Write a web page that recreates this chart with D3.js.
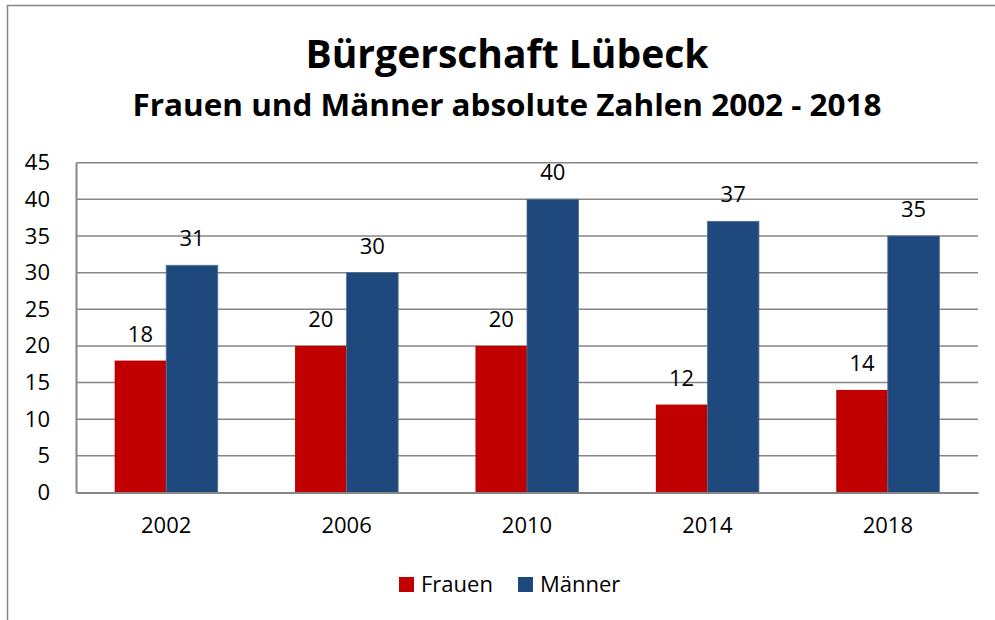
<!DOCTYPE html>
<html>
<head>
<meta charset="utf-8">
<script src="https://cdn.jsdelivr.net/npm/d3@7"></script>
<style>
  body { margin: 0; background: #fff; }
  text { font-family: "Open Sans", sans-serif; fill: #000; }
</style>
</head>
<body>
<svg id="chart" width="995" height="620"></svg>
<script>
// data
var years = ['2002', '2006', '2010', '2014', '2018'];
var series = ['Frauen', 'Männer'];
var frauen = [18, 20, 20, 12, 14];
var maenner = [31, 30, 40, 37, 35];
var yTicks = [0, 5, 10, 15, 20, 25, 30, 35, 40, 45];
var colors = ['#C00000', '#1F497D'];

var rows = years.map(function(y, i) {
    return { year: y, values: [frauen[i], maenner[i]] };
});

var svg = d3.select('#chart');

// outer chart frame (right/bottom edges run off the window)
svg.append('rect')
    .attr('x', 7.5).attr('y', 5.5)
    .attr('width', 1000).attr('height', 700)
    .attr('fill', '#fff')
    .attr('stroke', '#868686')
    .attr('stroke-width', 1.5);

var xs = d3.scaleBand().domain(years).range([76, 978]);
var xin = d3.scaleBand().domain(series).range([0, xs.bandwidth()]).paddingOuter(0.75);
var ys = d3.scaleLinear().domain([0, 45]).range([492.5, 162.7]);

// gridlines
svg.append('g')
    .selectAll('line')
    .data(yTicks.filter(function(d) { return d > 0; }))
    .enter()
    .append('line')
    .attr('x1', 76).attr('x2', 978)
    .attr('y1', function(d) { return ys(d); })
    .attr('y2', function(d) { return ys(d); })
    .attr('stroke', '#868686')
    .attr('stroke-width', 1.5);

// y axis
var yAxis = svg.append('g')
    .attr('transform', 'translate(76,0)')
    .call(d3.axisLeft(ys).tickValues(yTicks).tickSize(0).tickPadding(26));
yAxis.select('.domain').attr('stroke', '#868686').attr('stroke-width', 2);
yAxis.selectAll('text')
    .style('font-family', '"Open Sans", sans-serif')
    .style('font-size', '22px')
    .attr('fill', '#000');

// bars
var groups = svg.append('g')
    .selectAll('g')
    .data(rows)
    .enter()
    .append('g')
    .attr('transform', function(d) { return 'translate(' + xs(d.year) + ',0)'; });

groups.selectAll('rect')
    .data(function(d) { return d.values; })
    .enter()
    .append('rect')
    .attr('x', function(d, i) { return xin(series[i]); })
    .attr('width', xin.bandwidth())
    .attr('y', function(d) { return ys(d); })
    .attr('height', function(d) { return ys(0) - ys(d); })
    .attr('fill', function(d, i) { return colors[i]; })
    .attr('stroke', function(d, i) { return i == 1 ? '#4d6f98' : 'none'; })
    .attr('stroke-width', 0.8);

// value labels
groups.selectAll('text')
    .data(function(d) { return d.values; })
    .enter()
    .append('text')
    .attr('x', function(d, i) { return xin(series[i]) + xin.bandwidth() / 2; })
    .attr('y', function(d) { return ys(d) - 19; })
    .attr('text-anchor', 'middle')
    .style('font-size', '22px')
    .text(function(d) { return d; });

// x axis
var xAxis = svg.append('g')
    .attr('transform', 'translate(0,' + ys(0) + ')')
    .call(d3.axisBottom(xs).tickSize(0).tickPadding(25));
xAxis.select('.domain').attr('stroke', '#868686').attr('stroke-width', 2);
xAxis.selectAll('text')
    .style('font-family', '"Open Sans", sans-serif')
    .style('font-size', '22px')
    .attr('fill', '#000');

// titles
svg.append('text')
    .attr('x', 507).attr('y', 68)
    .attr('text-anchor', 'middle')
    .attr('textLength', 403)
    .attr('lengthAdjust', 'spacingAndGlyphs')
    .style('font-size', '40px')
    .style('font-weight', 'bold')
    .text('Bürgerschaft Lübeck');

svg.append('text')
    .attr('x', 507).attr('y', 116)
    .attr('text-anchor', 'middle')
    .attr('textLength', 749)
    .attr('lengthAdjust', 'spacingAndGlyphs')
    .style('font-size', '30px')
    .style('font-weight', 'bold')
    .text('Frauen und Männer absolute Zahlen 2002 - 2018');

// legend
var legendX = [399, 518];
var legend = svg.append('g')
    .selectAll('g')
    .data(series)
    .enter()
    .append('g')
    .attr('transform', function(d, i) { return 'translate(' + legendX[i] + ',577)'; });

legend.append('rect')
    .attr('width', 15).attr('height', 15)
    .attr('fill', function(d, i) { return colors[i]; });

legend.append('text')
    .attr('x', 22).attr('y', 15)
    .style('font-size', '22px')
    .text(function(d) { return d; });
</script>
</body>
</html>
